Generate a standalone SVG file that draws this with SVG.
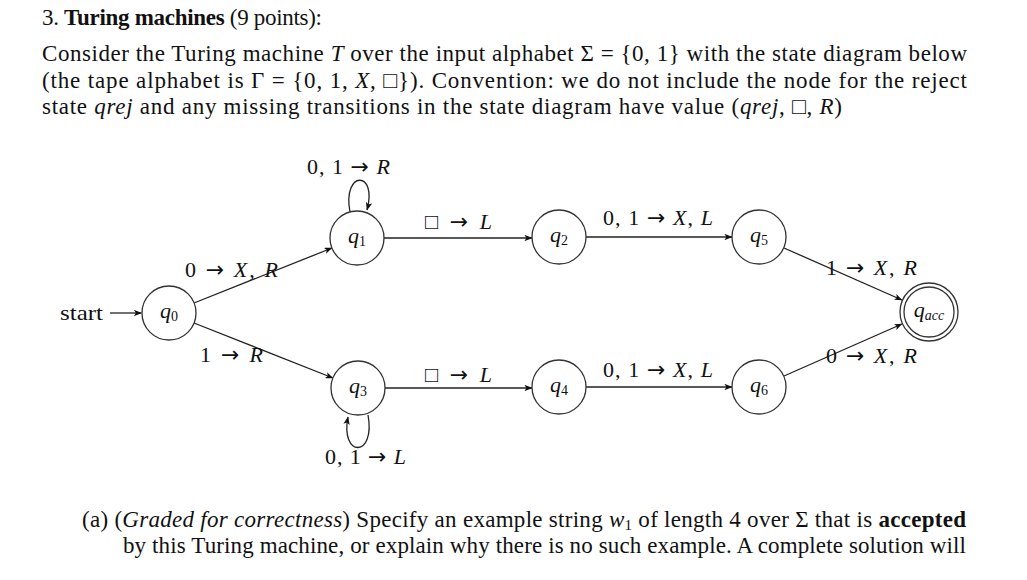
<svg xmlns="http://www.w3.org/2000/svg" width="1027" height="580" viewBox="0 0 1027 580">
<style>
text{font-family:"Liberation Serif","DejaVu Serif",serif;fill:#111;}
.body{font-size:23px;}
.lbl{font-size:22px;}
.st{font-size:22px;text-anchor:middle;}
.it{font-style:italic;}
.b{font-weight:bold;}
.ar{font-family:"DejaVu Sans",sans-serif;font-size:22px;}
.node{fill:#fff;stroke:#333;stroke-width:1.3;}
.edge{fill:none;stroke:#222;stroke-width:1.3;marker-end:url(#ah);}
</style>
<defs>
<marker id="ah" viewBox="0 0 10 8" refX="9.5" refY="4" markerWidth="8" markerHeight="6.4" markerUnits="userSpaceOnUse" orient="auto">
<path d="M0,0 L10,4 L0,8 L2.5,4 z" fill="#111"/>
</marker>
</defs>
<rect width="1027" height="580" fill="#fff"/>

<g id="header">
<text class="body" x="42" y="25" textLength="280" lengthAdjust="spacing">3. <tspan class="b">Turing machines</tspan> (9 points):</text>
<text class="body" x="42" y="61" textLength="925" lengthAdjust="spacing">Consider the Turing machine <tspan class="it">T</tspan> over the input alphabet Σ = {0, 1} with the state diagram below</text>
<text class="body" x="42" y="88" textLength="925" lengthAdjust="spacing">(the tape alphabet is Γ = {0, 1, <tspan class="it">X</tspan>, □}). Convention: we do not include the node for the reject</text>
<text class="body" x="42" y="114" textLength="800" lengthAdjust="spacing">state <tspan class="it">qrej</tspan> and any missing transitions in the state diagram have value (<tspan class="it">qrej</tspan>, □, <tspan class="it">R</tspan>)</text>
</g>

<g id="connectors">
<line class="edge" x1="110" y1="313" x2="141.5" y2="313"/>
<line class="edge" x1="194" y1="303" x2="332" y2="248"/>
<line class="edge" x1="194" y1="323" x2="333" y2="378"/>
<line class="edge" x1="384" y1="238" x2="532" y2="238"/>
<line class="edge" x1="586" y1="237" x2="732" y2="237"/>
<line class="edge" x1="784" y1="248" x2="902" y2="300"/>
<line class="edge" x1="385" y1="388" x2="532" y2="388"/>
<line class="edge" x1="586" y1="387" x2="732" y2="387"/>
<line class="edge" x1="784" y1="376" x2="902" y2="324"/>
<path class="edge" d="M350,212 C342,170 378,170 367,210"/>
<path class="edge" d="M368,415 C376,458 340,458 348,417"/>
</g>

<g id="edge-labels">
<text class="lbl" x="60" y="320" textLength="43" lengthAdjust="spacingAndGlyphs">start</text>
<text class="lbl" x="307" y="174" textLength="83" lengthAdjust="spacing">0, 1 <tspan class="ar">→</tspan> <tspan class="it">R</tspan></text>
<text class="lbl" x="185" y="277" textLength="93" lengthAdjust="spacing">0 <tspan class="ar">→</tspan> <tspan class="it">X</tspan>, <tspan class="it">R</tspan></text>
<text class="lbl" x="200" y="362" textLength="63" lengthAdjust="spacing">1 <tspan class="ar">→</tspan> <tspan class="it">R</tspan></text>
<text class="lbl" x="425" y="229" textLength="67" lengthAdjust="spacing">□ <tspan class="ar">→</tspan> <tspan class="it">L</tspan></text>
<text class="lbl" x="603" y="225" textLength="110" lengthAdjust="spacing">0, 1 <tspan class="ar">→</tspan> <tspan class="it">X</tspan>, <tspan class="it">L</tspan></text>
<text class="lbl" x="425" y="382" textLength="67" lengthAdjust="spacing">□ <tspan class="ar">→</tspan> <tspan class="it">L</tspan></text>
<text class="lbl" x="603" y="377" textLength="110" lengthAdjust="spacing">0, 1 <tspan class="ar">→</tspan> <tspan class="it">X</tspan>, <tspan class="it">L</tspan></text>
<text class="lbl" x="826" y="275" textLength="91" lengthAdjust="spacing">1 <tspan class="ar">→</tspan> <tspan class="it">X</tspan>, <tspan class="it">R</tspan></text>
<text class="lbl" x="826" y="363" textLength="91" lengthAdjust="spacing">0 <tspan class="ar">→</tspan> <tspan class="it">X</tspan>, <tspan class="it">R</tspan></text>
<text class="lbl" x="325" y="464" textLength="81" lengthAdjust="spacing">0, 1 <tspan class="ar">→</tspan> <tspan class="it">L</tspan></text>
</g>

<g id="q0"><circle class="node" cx="169" cy="313" r="27"/><text class="st" x="169" y="318"><tspan class="it">q</tspan><tspan font-size="14" dy="3">0</tspan></text></g>
<g id="q1"><circle class="node" cx="357" cy="238" r="27"/><text class="st" x="357" y="243"><tspan class="it">q</tspan><tspan font-size="14" dy="3">1</tspan></text></g>
<g id="q2"><circle class="node" cx="559" cy="237" r="27"/><text class="st" x="559" y="242"><tspan class="it">q</tspan><tspan font-size="14" dy="3">2</tspan></text></g>
<g id="q5"><circle class="node" cx="759" cy="237" r="27"/><text class="st" x="759" y="242"><tspan class="it">q</tspan><tspan font-size="14" dy="3">5</tspan></text></g>
<g id="q3"><circle class="node" cx="358" cy="388" r="27"/><text class="st" x="358" y="393"><tspan class="it">q</tspan><tspan font-size="14" dy="3">3</tspan></text></g>
<g id="q4"><circle class="node" cx="559" cy="387" r="27"/><text class="st" x="559" y="392"><tspan class="it">q</tspan><tspan font-size="14" dy="3">4</tspan></text></g>
<g id="q6"><circle class="node" cx="759" cy="387" r="27"/><text class="st" x="759" y="392"><tspan class="it">q</tspan><tspan font-size="14" dy="3">6</tspan></text></g>
<g id="qacc"><circle class="node" cx="929" cy="312" r="29"/><circle class="node" cx="929" cy="312" r="25"/><text class="st" x="929" y="317"><tspan class="it">q</tspan><tspan class="it" font-size="14" dy="3">acc</tspan></text></g>

<g id="footer">
<text class="body" x="82" y="527" textLength="884" lengthAdjust="spacing">(a) (<tspan class="it">Graded for correctness</tspan>) Specify an example string <tspan class="it">w</tspan><tspan font-size="15" dy="3">1</tspan><tspan dy="-3"> of length 4 over Σ that is </tspan><tspan class="b">accepted</tspan></text>
<text class="body" x="123" y="553" textLength="843" lengthAdjust="spacing">by this Turing machine, or explain why there is no such example. A complete solution will</text>
</g>
</svg>
